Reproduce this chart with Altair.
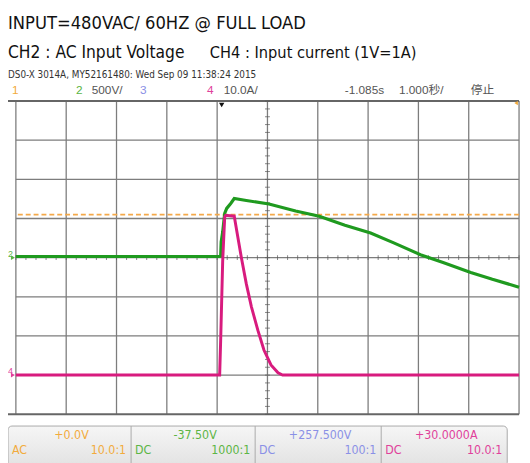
import altair as alt
import pandas as pd
import numpy as np

# ---------------- data read from the scope screen ----------------
# time in seconds from the left edge of the screen (1.000 s/div, 10 div)
ch2_t = [0.0, 4.03, 4.07, 4.08, 4.11, 4.15, 4.19, 4.27, 4.34, 4.58, 5.03,
         5.56, 6.03, 6.54, 7.05, 7.51, 8.04, 8.49, 9.04, 9.47, 10.0]
ch2_volts = [15, 15, 20, 201, 327, 566, 629, 692, 755, 730, 686,
             597, 528, 415, 314, 189, 38, -63, -189, -277, -377]

ch4_t = [0.0, 4.05, 4.07, 4.11, 4.15, 4.17, 4.34, 4.38, 4.48, 4.58, 4.68,
         4.81, 4.93, 5.07, 5.21, 5.30, 10.0]
ch4_amps = [0.0, 0.0, 8.9, 29.1, 40.4, 40.8, 40.6, 37.6, 30.1, 23.3, 17.5,
            11.4, 6.4, 2.6, 0.6, 0.0, 0.0]

ch2_volts_per_div = 500
ch4_amps_per_div = 10
ch4_ground_div = -3
trigger_level_div = 1.1
trigger_time = 4.09

title_1 = "INPUT=480VAC/ 60HZ @ FULL LOAD"
title_2a = "CH2 : AC Input Voltage"
title_2b = "CH4 : Input current (1V=1A)"
scope_id = "DS0-X 3014A, MY52161480: Wed Sep 09 11:38:24 2015"
status_items = ["1", "2", "500V/", "3", "4", "10.0A/", "-1.085s", "1.000秒/", "停止"]
panel_values = ["+0.0V", "-37.50V", "+257.500V", "+30.0000A"]
panel_coupling = ["AC", "DC", "DC", "DC"]
panel_probe = ["10.0:1", "1000:1", "100:1", "10.0:1"]

x_grid = list(range(0, 11))
y_grid = list(range(-4, 5))

# ---------------- layout / style ----------------
PL, PT = 16, 99          # page position of plot area
W, H = 511, 318
COND = "DejaVu Sans Condensed, Liberation Sans, sans-serif"
SANS = "Liberation Sans, Arial, Noto Sans CJK SC, sans-serif"
ORANGE, GREEN, BLUE, PINK = "#f2ab3c", "#5cb545", "#8a90e6", "#e0409a"
TRACE_GREEN, TRACE_PINK = "#1f9a1f", "#d81b7e"

XS = alt.Scale(domain=[0, 10], nice=False, zero=False)
YS = alt.Scale(domain=[-4, 4], nice=False, zero=False)


def px(v):
    return alt.value(v - PL)


def py(v):
    return alt.value(v - PT)


def label(txt, x, y, color="#555555", size=11, font=SANS, align="left", weight="normal"):
    return alt.Chart(pd.DataFrame({"s": [txt]})).mark_text(
        align=align, baseline="alphabetic", font=font, fontSize=size,
        color=color, fontWeight=weight
    ).encode(x=px(x), y=py(y), text="s:N")


layers = []

# grid
layers.append(alt.Chart(pd.DataFrame({"t": x_grid})).mark_rule(
    color="#7d7d7d", strokeWidth=1.3).encode(x=alt.X("t:Q", scale=XS, axis=None)))
layers.append(alt.Chart(pd.DataFrame({"d": y_grid[1:-1]})).mark_rule(
    color="#7d7d7d", strokeWidth=1.3).encode(y=alt.Y("d:Q", scale=YS, axis=None)))
# outer top / bottom border
layers.append(alt.Chart(pd.DataFrame({"d": [-4, 4]})).mark_rule(
    color="#666666", strokeWidth=2).encode(
    y=alt.Y("d:Q", scale=YS, axis=None), x=px(8), x2=px(PL + W)))

# centre graticule minor ticks
minor_x = [round(v, 2) for v in np.arange(0, 10.001, 0.2)]
minor_y = [round(v, 2) for v in np.arange(-4, 4.001, 0.2)]
layers.append(alt.Chart(pd.DataFrame({"t": minor_x, "d": 0})).mark_tick(
    orient="vertical", size=5, thickness=1, color="#555555").encode(
    x=alt.X("t:Q", scale=XS, axis=None), y=alt.Y("d:Q", scale=YS, axis=None)))
layers.append(alt.Chart(pd.DataFrame({"t": 5, "d": minor_y})).mark_tick(
    orient="horizontal", size=5, thickness=1, color="#555555").encode(
    x=alt.X("t:Q", scale=XS, axis=None), y=alt.Y("d:Q", scale=YS, axis=None)))

# trigger level (dashed orange)
layers.append(alt.Chart(pd.DataFrame({"d": [trigger_level_div]})).mark_rule(
    color="#f4a94a", strokeWidth=1.6, strokeDash=[5, 3]).encode(
    y=alt.Y("d:Q", scale=YS, axis=None)))

# traces
ch2 = pd.DataFrame({"t": ch2_t, "v": ch2_volts})
ch2["div"] = ch2["v"] / ch2_volts_per_div
ch4 = pd.DataFrame({"t": ch4_t, "a": ch4_amps})
ch4["div"] = ch4["a"] / ch4_amps_per_div + ch4_ground_div

layers.append(alt.Chart(ch2).mark_line(color=TRACE_GREEN, strokeWidth=3.2).encode(
    x=alt.X("t:Q", scale=XS, axis=None), y=alt.Y("div:Q", scale=YS, axis=None)))
layers.append(alt.Chart(ch4).mark_line(color=TRACE_PINK, strokeWidth=3).encode(
    x=alt.X("t:Q", scale=XS, axis=None), y=alt.Y("div:Q", scale=YS, axis=None)))

# trigger time marker
layers.append(alt.Chart(pd.DataFrame({"t": [trigger_time]})).mark_point(
    shape="triangle-down", filled=True, size=30, color="#111111", opacity=1).encode(
    x=alt.X("t:Q", scale=XS, axis=None), y=alt.value(4)))
# orange corner marker
layers.append(alt.Chart(pd.DataFrame({"d": [4]})).mark_point(
    shape="triangle-left", filled=True, size=18, color=ORANGE, opacity=1).encode(
    x=alt.value(W - 3), y=alt.value(2)))

# channel ground markers
for ch, d, col in [("2", 0, GREEN), ("4", ch4_ground_div, PINK)]:
    layers.append(alt.Chart(pd.DataFrame({"d": [d]})).mark_point(
        shape="triangle-right", filled=True, size=22, color=col, opacity=1).encode(
        x=px(13), y=alt.Y("d:Q", scale=YS, axis=None)))
    layers.append(alt.Chart(pd.DataFrame({"d": [d], "s": [ch]})).mark_text(
        align="left", baseline="bottom", fontSize=9, font=SANS, color=col, dy=1).encode(
        x=px(8), y=alt.Y("d:Q", scale=YS, axis=None), text="s:N"))

# header texts
layers.append(label(title_1, 8, 26, "#111111", 18.5, COND))
layers.append(label(title_2a, 8, 55, "#111111", 17.5, COND))
layers.append(label(title_2b, 213, 55, "#111111", 16.5, COND))
layers.append(label(scope_id, 8, 76, "#333333", 10, COND))
status_pos = [12, 77, 93, 142, 210, 227, 350, 405, 478]
status_col = [ORANGE, GREEN, "#555555", BLUE, PINK, "#555555", "#555555", "#555555", "#555555"]
for s, x, c in zip(status_items, status_pos, status_col):
    layers.append(label(s, x, 92, c, 12, SANS))

# bottom channel panel
panel_edges = [8, 133, 259, 387, 515]
grad = alt.Gradient(gradient="linear", x1=0, y1=0, x2=0, y2=1,
                    stops=[alt.GradientStop(color="#f6f6f6", offset=0),
                           alt.GradientStop(color="#e2e2e2", offset=1)])
layers.append(alt.Chart(pd.DataFrame({"d": [0]})).mark_rect(
    fill=grad, stroke="#aaaaaa", strokeWidth=1, cornerRadius=4).encode(
    x=px(panel_edges[0]), x2=px(panel_edges[-1]), y=py(429), y2=py(470)))
for e in panel_edges[1:-1]:
    layers.append(alt.Chart(pd.DataFrame({"d": [0]})).mark_rule(
        color="#aaaaaa", strokeWidth=1).encode(x=px(e), y=py(429), y2=py(470)))
panel_cols = [ORANGE, GREEN, BLUE, PINK]
for i in range(4):
    l, r = panel_edges[i], panel_edges[i + 1]
    layers.append(label(panel_values[i], (l + r) / 2 + 2, 442, panel_cols[i], 12.5, COND, "center"))
    layers.append(label(panel_coupling[i], l + 4, 457, panel_cols[i], 12.5, COND, "left"))
    layers.append(label(panel_probe[i], r - 5, 457, panel_cols[i], 12.5, COND, "right"))

chart = alt.layer(*layers).properties(
    width=W, height=H,
    padding={"left": PL - 8, "top": PT - 8, "right": 3, "bottom": 46},
    autosize=alt.AutoSizeParams(type="none"),
    background="white",
).configure_view(stroke=None)

chart.save("out.html", embed_options={"renderer": "svg", "actions": False})
